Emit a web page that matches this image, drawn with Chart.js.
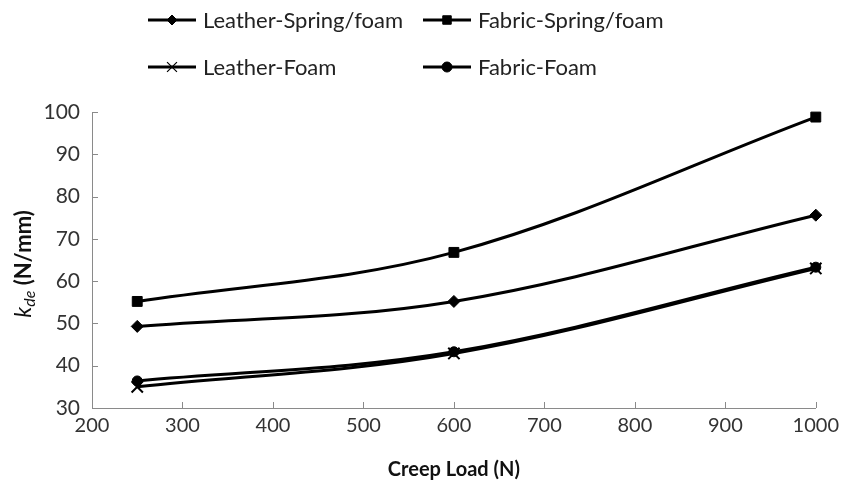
<!DOCTYPE html>
<html lang="en">
<head>
  <meta charset="UTF-8">
  <title>kde vs Creep Load</title>
  <script src="https://cdn.jsdelivr.net/npm/chart.js"></script>
  <style>
    body { margin: 0; background: #fff; }
    #wrap { width: 845px; height: 485px; }
  </style>
</head>
<body>
  <div id="wrap">
    <canvas id="kdeChart" width="845" height="485"></canvas>
  </div>

  <script>
    const loads = [250, 600, 1000];
    const leatherSpringFoam = [49.3, 55.2, 75.6];
    const fabricSpringFoam = [55.2, 66.8, 98.8];
    const leatherFoam = [35.0, 42.9, 63.0];
    const fabricFoam = [36.4, 43.3, 63.3];
    const yTicks = [30, 40, 50, 60, 70, 80, 90, 100];
    const xTicks = [200, 300, 400, 500, 600, 700, 800, 900, 1000];

    const FONT = 'Lato, "Open Sans", sans-serif';
    const AXIS = '#8a8a8a';

    function toPoints(vals) {
      return loads.map((x, i) => ({ x: x, y: vals[i] }));
    }

    function series(label, vals, style, radius) {
      return {
        label: label,
        data: toPoints(vals),
        borderColor: '#000',
        backgroundColor: '#000',
        borderWidth: 3,
        pointStyle: style,
        pointRadius: radius,
        pointHoverRadius: radius,
        pointBorderWidth: style === 'crossRot' ? 2 : 1,
        tension: 0.35,
        fill: false,
        clip: false
      };
    }

    // legend in two rows of two, drawn by hand
    const legendPlugin = {
      id: 'twoRowLegend',
      afterDraw(chart) {
        const ctx = chart.ctx;
        const cols = [148, 423];
        const rows = [20, 67];
        ctx.save();
        ctx.font = '22px ' + FONT;
        ctx.textBaseline = 'middle';
        chart.data.datasets.forEach((ds, i) => {
          const x = cols[i % 2];
          const y = rows[Math.floor(i / 2)];
          ctx.strokeStyle = '#000';
          ctx.lineWidth = 3;
          ctx.beginPath();
          ctx.moveTo(x, y);
          ctx.lineTo(x + 48, y);
          ctx.stroke();
          const r = ds.pointStyle === 'rect' ? 6 : ds.pointStyle === 'crossRot' ? 7 : 5;
          ctx.fillStyle = '#000';
          ctx.lineWidth = ds.pointStyle === 'crossRot' ? 1.2 : 1;
          Chart.helpers.drawPoint(ctx, { pointStyle: ds.pointStyle, radius: r, borderWidth: ctx.lineWidth }, x + 24, y);
          ctx.fillStyle = '#222';
          ctx.fillText(ds.label, x + 55, y + 1);
        });
        ctx.restore();
      }
    };

    // y title with italic k and subscript de
    const yTitlePlugin = {
      id: 'yTitle',
      afterDraw(chart) {
        const ctx = chart.ctx;
        const parts = [
          { t: 'k', f: 'italic 23px ' + FONT, dy: 0 },
          { t: 'de', f: 'italic 16px ' + FONT, dy: 6 },
          { t: ' (N/mm)', f: 'bold 22px ' + FONT, dy: 0 }
        ];
        ctx.save();
        let total = 0;
        parts.forEach(p => { ctx.font = p.f; p.w = ctx.measureText(p.t).width; total += p.w; });
        ctx.translate(24, 264);
        ctx.rotate(-Math.PI / 2);
        ctx.fillStyle = '#111';
        ctx.textBaseline = 'middle';
        let x = -total / 2;
        parts.forEach(p => {
          ctx.font = p.f;
          ctx.fillText(p.t, x, p.dy);
          x += p.w;
        });
        ctx.restore();
      }
    };

    // small tick marks pointing into the plot
    const innerTicks = {
      id: 'innerTicks',
      afterDatasetsDraw(chart) {
        const ctx = chart.ctx;
        const xs = chart.scales.x, ys = chart.scales.y;
        const area = chart.chartArea;
        ctx.save();
        ctx.strokeStyle = AXIS;
        ctx.lineWidth = 1;
        ctx.beginPath();
        xTicks.forEach(v => {
          const px = Math.round(xs.getPixelForValue(v)) + 0.5;
          ctx.moveTo(px, area.bottom);
          ctx.lineTo(px, area.bottom - 6);
        });
        yTicks.forEach(v => {
          const py = Math.round(ys.getPixelForValue(v)) + 0.5;
          ctx.moveTo(area.left, py);
          ctx.lineTo(area.left + 6, py);
        });
        ctx.stroke();
        ctx.restore();
      }
    };

    const ctx = document.getElementById('kdeChart').getContext('2d');
    new Chart(ctx, {
      type: 'line',
      data: {
        datasets: [
          series('Leather-Spring/foam', leatherSpringFoam, 'rectRot', 6),
          series('Fabric-Spring/foam', fabricSpringFoam, 'rect', 7),
          series('Leather-Foam', leatherFoam, 'crossRot', 8),
          series('Fabric-Foam', fabricFoam, 'circle', 5)
        ]
      },
      options: {
        responsive: false,
        animation: false,
        layout: { padding: { top: 112, right: 26, left: 0, bottom: 0 } },
        plugins: {
          legend: { display: false },
          tooltip: { enabled: false }
        },
        scales: {
          x: {
            type: 'linear',
            min: 200,
            max: 1000,
            afterBuildTicks(scale) { scale.ticks = xTicks.map(v => ({ value: v })); },
            afterFit(scale) { scale.height = 77; },
            border: { color: AXIS, width: 1 },
            grid: { display: false, drawTicks: false },
            ticks: {
              color: '#333',
              font: { family: FONT, size: 20 },
              padding: 6,
              callback: v => String(v)
            },
            title: {
              display: true,
              text: 'Creep Load (N)',
              color: '#111',
              font: { family: FONT, size: 20, weight: 'bold' },
              padding: { top: 4, bottom: 3 }
            }
          },
          y: {
            min: 30,
            max: 100,
            afterBuildTicks(scale) { scale.ticks = yTicks.map(v => ({ value: v })); },
            afterFit(scale) { scale.width = 92; },
            border: { color: AXIS, width: 1 },
            grid: { display: false, drawTicks: false },
            ticks: { color: '#333', font: { family: FONT, size: 21 }, padding: 12 }
          }
        }
      },
      plugins: [innerTicks, legendPlugin, yTitlePlugin]
    });
  </script>
</body>
</html>
